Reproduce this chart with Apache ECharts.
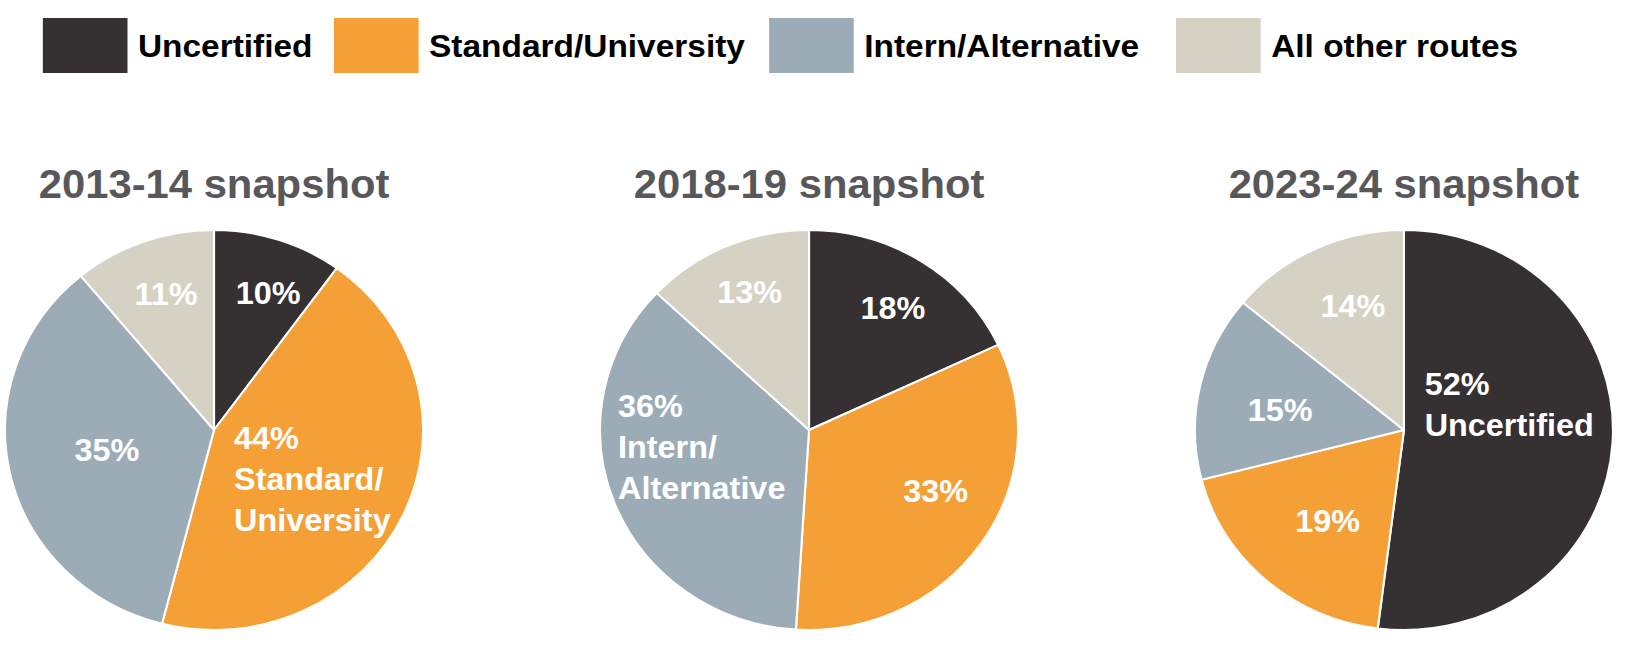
<!DOCTYPE html>
<html>
<head>
<meta charset="utf-8">
<script src="https://cdn.jsdelivr.net/npm/echarts@6/dist/echarts.min.js"></script>
<style>
  html, body { margin: 0; padding: 0; background: #ffffff; overflow: hidden; }
  #wrap { width: 1628px; height: 668px; overflow: hidden; }
  #chart { width: 1558px; height: 668px; transform: scaleX(1.045); transform-origin: 0 0; }
</style>
</head>
<body>
<div id="wrap"><div id="chart"></div></div>
<script>
// ---- data ----
const categories = ['Uncertified', 'Standard/University', 'Intern/Alternative', 'All other routes'];
const snapshots = ['2013-14 snapshot', '2018-19 snapshot', '2023-24 snapshot'];
const values1314 = [10, 44, 35, 11];
const values1819 = [18, 33, 36, 13];
const values2324 = [52, 19, 15, 14];
const namedSlice = [1, 2, 0]; // which slice also shows its category name

// ---- styles ----
const colors = ['#353032', '#F5A037', '#9CACB7', '#D5D2C4'];
const centersX = [204.8, 774.2, 1343.5];
const centerY = 430;
const radius = 200;
const legendLefts = [41, 319.6, 736, 1125.4];
// label nudges [dx, dy, align] relative to default inside position
const labelShift = [
  [[20, -39], [-74, 5, 'left'], [-2, -2], [-11, -39]],
  [[25, -35], [36, 3], [-87, -21, 'left'], [-16, -43]],
  [[-83, -32, 'left'], [-5, 14], [-18, 3], [-5, -31]]
];

const allValues = [values1314, values1819, values2324];
const font = '"Liberation Sans", Arial, sans-serif';

const chart = echarts.init(document.getElementById('chart'), null, { renderer: 'svg' });

const titles = snapshots.map((t, i) => ({
  text: t,
  left: centersX[i],
  top: 164,
  textAlign: 'center',
  padding: 0,
  textStyle: { fontFamily: font, fontSize: 40, fontWeight: 'bold', color: '#58585A', lineHeight: 40 }
}));

const legends = categories.map((c, i) => ({
  data: [c],
  left: legendLefts[i],
  top: 18,
  orient: 'horizontal',
  icon: 'rect',
  itemWidth: 81,
  itemHeight: 55,
  selectedMode: false,
  padding: 0,
  itemStyle: { borderWidth: 0 },
  textStyle: { fontFamily: font, fontSize: 32, fontWeight: 'bold', color: '#000000', padding: [0, 0, 0, 5] }
}));

const series = allValues.map((vals, s) => ({
  type: 'pie',
  center: [centersX[s], centerY],
  radius: radius,
  startAngle: 90,
  clockwise: true,
  avoidLabelOverlap: false,
  animation: false,
  emphasis: { disabled: true },
  itemStyle: { borderColor: '#ffffff', borderWidth: 2 },
  label: {
    show: true,
    position: 'inside',
    fontFamily: font,
    fontSize: 31,
    fontWeight: 'bold',
    color: '#ffffff',
    lineHeight: 41,
    formatter: (p) => p.dataIndex === namedSlice[s]
      ? p.value + '%\n' + p.name.replace('/', '/\n')
      : p.value + '%'
  },
  labelLine: { show: false },
  labelLayout: (params) => {
    const o = labelShift[s][params.dataIndex];
    const r = { dx: o[0], dy: o[1] };
    if (o[2]) r.align = o[2];
    return r;
  },
  data: vals.map((v, i) => ({ name: categories[i], value: v, itemStyle: { color: colors[i] } }))
}));

chart.setOption({
  backgroundColor: '#ffffff',
  color: colors,
  animation: false,
  title: titles,
  legend: legends,
  series: series
});
</script>
</body>
</html>
